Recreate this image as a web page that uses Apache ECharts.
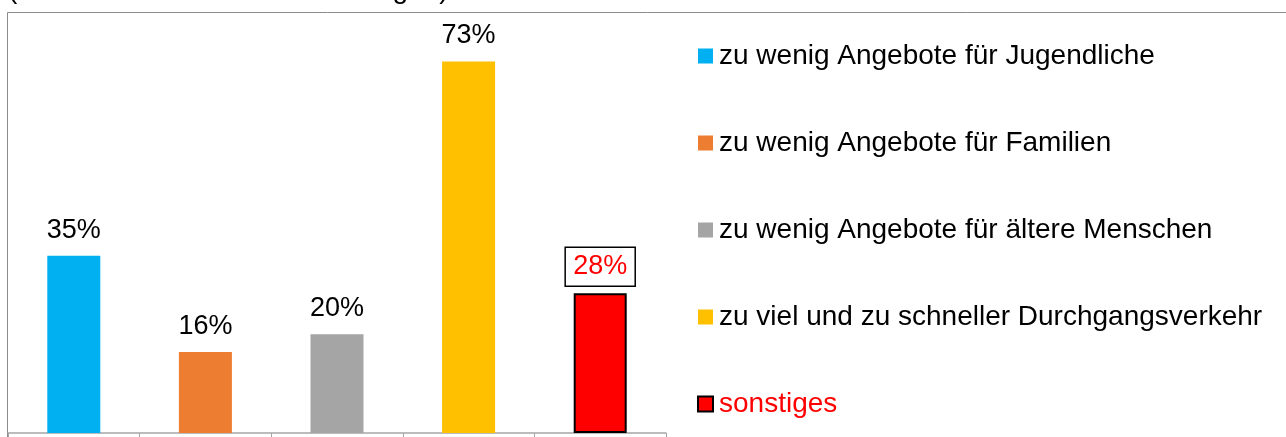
<!DOCTYPE html>
<html>
<head>
<meta charset="utf-8">
<script src="https://cdn.jsdelivr.net/npm/echarts@6/dist/echarts.min.js"></script>
<style>
  html, body { margin: 0; padding: 0; background: #fff; }
  #chart { width: 1286px; height: 437px; }
</style>
</head>
<body>
<div id="chart"></div>
<script>
const categories = [
  'zu wenig Angebote für Jugendliche',
  'zu wenig Angebote für Familien',
  'zu wenig Angebote für ältere Menschen',
  'zu viel und zu schneller Durchgangsverkehr',
  'sonstiges'
]
// bar heights; labels show them rounded
const values = [35, 16, 19.5, 73.4, 27.6]
const colors = ['#00B0F0', '#ED7D31', '#A5A5A5', '#FFC000', '#FF0000']
const headline = '(Prozent aller Mehrfachnennungen)'

const font = 'Arial, "Liberation Sans", sans-serif'

const chart = echarts.init(document.getElementById('chart'))

// one series per category so the legend can list them
const series = categories.map((name, i) => {
  const isOther = i === categories.length - 1
  return {
    type: 'bar',
    name: name,
    stack: 'all',
    barWidth: 53,
    data: categories.map((c, j) => (j === i ? values[i] : '-')),
    itemStyle: isOther
      ? { color: colors[i], borderColor: '#000', borderWidth: 2 }
      : { color: colors[i] },
    label: {
      show: true,
      position: 'top',
      distance: isOther ? 7 : 12,
      formatter: p => Math.round(p.value) + '%',
      fontFamily: font,
      fontSize: 27,
      color: isOther ? '#FF0000' : '#000',
      borderColor: isOther ? '#000' : 'transparent',
      borderWidth: isOther ? 1.5 : 0,
      padding: isOther ? [6, 8] : 0
    },
    animation: false
  }
})

chart.setOption({
  title: {
    text: headline,
    left: 8,
    top: -24,
    padding: 0,
    textStyle: { fontFamily: font, fontSize: 28, fontWeight: 'normal', color: '#000' }
  },
  graphic: [{
    type: 'rect',
    shape: { x: 7.5, y: 12.5, width: 1300, height: 500 },
    style: { fill: 'none', stroke: '#8c8c8c', lineWidth: 1 },
    silent: true
  }],
  legend: {
    orient: 'vertical',
    left: 697,
    top: 42,
    padding: 0,
    icon: 'rect',
    itemWidth: 15,
    itemHeight: 15,
    itemGap: 59,
    selectedMode: false,
    textStyle: { fontFamily: font, fontSize: 28, color: '#000', padding: [0, 0, 0, 1] },
    data: categories.map((name, i) =>
      i === categories.length - 1 ? { name: name, textStyle: { color: '#FF0000' } } : { name: name }
    )
  },
  grid: { left: 8, right: 620, top: 28, bottom: 4, containLabel: false },
  xAxis: {
    type: 'category',
    data: categories,
    axisLine: { lineStyle: { color: '#a6a6a6', width: 1.5 } },
    axisTick: { show: true, interval: 0, length: 6, lineStyle: { color: '#a6a6a6' } },
    axisLabel: { show: false }
  },
  yAxis: {
    type: 'value',
    min: 0,
    max: 80,
    show: false
  },
  series: series
})
</script>
</body>
</html>
